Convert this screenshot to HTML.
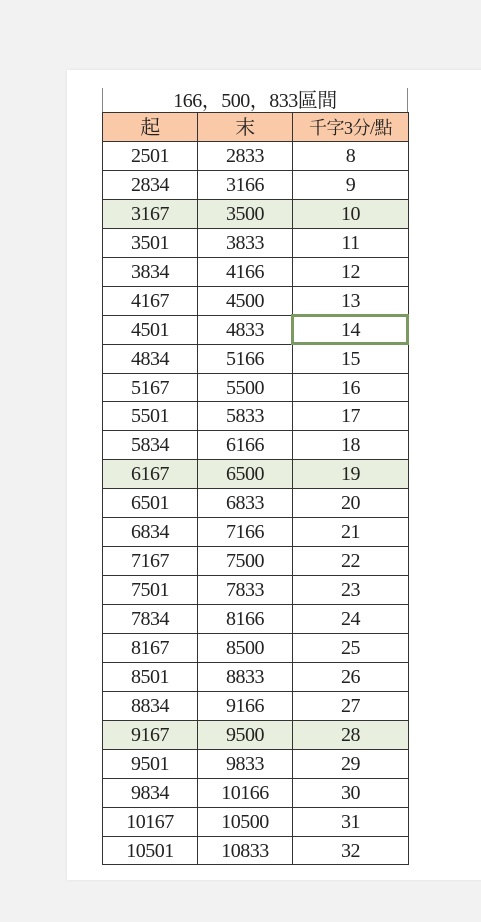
<!DOCTYPE html>
<html><head><meta charset="utf-8">
<style>
body{margin:0;width:481px;height:922px;background:#f2f2f2;position:relative;overflow:hidden;font-family:"Liberation Serif","Noto Serif CJK SC",serif;}
#card{position:absolute;left:67px;top:70px;width:420px;height:810px;background:#fff;box-shadow:0 0 3px rgba(0,0,0,0.08);}
.c{position:absolute;box-sizing:border-box;text-align:center;color:#222;font-size:20px;letter-spacing:-0.5px;}
</style></head><body>
<div id="card"></div>
<div id="tbl"></div>
<script>
const starts=[2501,2834,3167,3501,3834,4167,4501,4834,5167,5501,5834,6167,6501,6834,7167,7501,7834,8167,8501,8834,9167,9501,9834,10167,10501];
const ends=[2833,3166,3500,3833,4166,4500,4833,5166,5500,5833,6166,6500,6833,7166,7500,7833,8166,8500,8833,9166,9500,9833,10166,10500,10833];
const points=[8,9,10,11,12,13,14,15,16,17,18,19,20,21,22,23,24,25,26,27,28,29,30,31,32];
const headers=["起","末","千字3分/點"];
const shaded=[2,11,20];
const colX=[102,197,292,408];
const top0=141, rh=28.94;
const t=document.getElementById('tbl');
function cell(x,y,w,h,txt,bg,name){
  const d=document.createElement('div');
  d.className='c';
  
  
  d.style.left=x+'px';d.style.top=y+'px';d.style.width=w+'px';d.style.height=h+'px';
  d.style.lineHeight=h+'px';
  if(bg)d.style.background=bg;
  d.textContent=txt;
  t.appendChild(d);return d;
}
const ti=cell(102,88,306,24,"166，500，833區間",null,'table-title');
ti.style.borderLeft='1px solid #888';ti.style.borderRight='1px solid #888';ti.style.lineHeight='26px';
for(let j=0;j<3;j++){
  const h=cell(colX[j],111.5,colX[j+1]-colX[j]+1,30,headers[j],'#f9c9a8','header-cell');
  h.style.border='1px solid #333';
  if(j==2)h.style.fontSize='18px';
}
for(let i=0;i<starts.length;i++){
  const y=top0+i*rh;
  const bg=shaded.includes(i)?'#e9efdf':null;
  const vals=[starts[i],ends[i],points[i]];
  for(let j=0;j<3;j++){
    const c=cell(colX[j],y,colX[j+1]-colX[j]+1,rh+1,vals[j],bg,'table-cell');
    c.style.border='1px solid #333';
  }
}
const sel=document.createElement('div');


sel.style.cssText='position:absolute;box-sizing:border-box;border:3px solid #7a9a62;left:291px;top:'+(top0+6*rh-1)+'px;width:118px;height:'+(rh+2)+'px;';
t.appendChild(sel);
</script>
</body></html>
